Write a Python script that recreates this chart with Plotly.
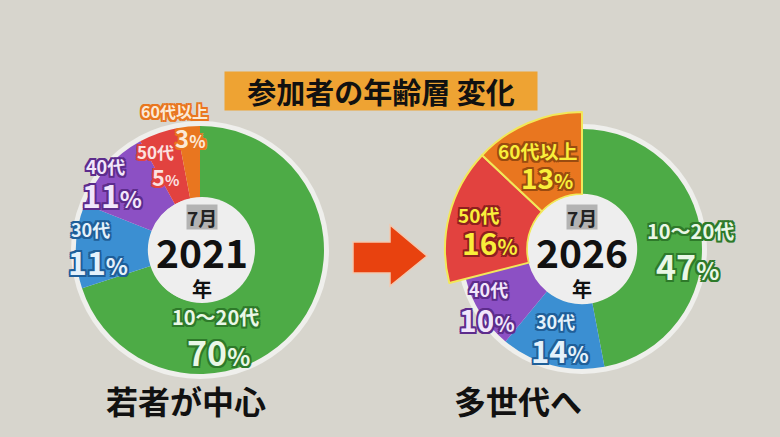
import plotly.graph_objects as go

W, H = 780, 437

ages = ["10〜20代", "30代", "40代", "50代", "60代以上"]
share_2021 = [70, 11, 11, 5, 3]
share_2026 = [47, 14, 10, 16, 13]
highlight_2026 = [False, False, False, True, True]
colors = ["#4dab46", "#3b8fd2", "#8c50c4", "#e2423f", "#e9761f"]

FONT = "Noto Sans CJK JP"
BG = "#d7d5cd"


def px(x, y):
    return x / W, 1 - y / H


def domain(cx, cy, r):
    x0, y0 = px(cx - r, cy + r)
    x1, y1 = px(cx + r, cy - r)
    return dict(x=[x0, x1], y=[y0, y1])


def stroke(c, w=1.8):
    parts = []
    for dx, dy in [(-w, -w), (w, -w), (-w, w), (w, w), (0, w), (0, -w), (w, 0), (-w, 0)]:
        parts.append(f"{dx}px {dy}px 0 {c}")
    return ", ".join(parts)


def circle(cx, cy, r, color, layer="below"):
    x0, y0 = px(cx - r, cy + r)
    x1, y1 = px(cx + r, cy - r)
    return dict(type="circle", xref="paper", yref="paper", x0=x0, y0=y0, x1=x1, y1=y1,
                fillcolor=color, line=dict(width=0), layer=layer)


def label(x, y, text, size, fill, edge=None):
    xx, yy = px(x, y)
    font = dict(family=FONT, size=size, color=fill, weight="bold")
    if edge:
        font["shadow"] = stroke(edge)
    return dict(x=xx, y=yy, xref="paper", yref="paper", text=text, showarrow=False,
                xanchor="center", yanchor="middle", font=font)


def pct(v, size):
    return f"{v}<span style='font-size:{int(size * 0.72)}px'>%</span>"


L = (200, 250, 124)
R = (582, 249, 120)

fig = go.Figure()
fig.add_trace(go.Pie(values=share_2021, labels=ages, marker=dict(colors=colors),
                     hole=0.42, sort=False, direction="clockwise", textinfo="none",
                     domain=domain(*L), showlegend=False))
fig.add_trace(go.Pie(values=share_2026, labels=ages, marker=dict(colors=colors),
                     hole=0.46, sort=False, direction="clockwise", textinfo="none",
                     domain=domain(*R), showlegend=False))
# highlighted (enlarged) slices of 2026
hl_colors = [c if h else "rgba(0,0,0,0)" for c, h in zip(colors, highlight_2026)]
hl_lines = ["#f2e85a" if h else "rgba(0,0,0,0)" for h in highlight_2026]
fig.add_trace(go.Pie(values=share_2026, labels=ages,
                     marker=dict(colors=hl_colors, line=dict(color=hl_lines, width=2)),
                     hole=0.40, sort=False, direction="clockwise", textinfo="none",
                     domain=domain(R[0], R[1], 137), showlegend=False))

shapes = [
    circle(L[0], L[1], L[2] + 5, "#efefec"),
    circle(R[0], R[1], R[2] + 5, "#efefec"),
    circle(L[0] + 2, L[1], 53, "#eeeeee", "above"),
    circle(R[0], R[1], 54, "#eeeeee", "above"),
]
arrow = [(353, 242), (390, 242), (390, 225), (427, 256), (390, 286), (390, 273), (353, 273)]
path = "M " + " L ".join(f"{px(x, y)[0]},{px(x, y)[1]}" for x, y in arrow) + " Z"
shapes.append(dict(type="path", xref="paper", yref="paper", path=path,
                   fillcolor="#e8420f", line=dict(color="#f2c9b0", width=1.5)))

ann = []
title = label(381, 91, "参加者の年齢層 変化", 29, "#111")
title.update(bgcolor="#eea333", borderpad=0, width=312, height=38)
ann.append(title)

# centre labels
for cx, year in [(L[0] + 2, "2021"), (R[0], "2026")]:
    month = label(cx, 217, "7月", 19, "#222")
    month.update(bgcolor="#b3b3b3", borderpad=0, height=24)
    ann.append(month)
    ann.append(label(cx, 251, year, 39, "#111"))
    ann.append(label(cx, 288, "年", 20, "#111"))

# 2021 slice labels
ann += [
    label(174, 111, ages[4], 16, "#fbe9d6", colors[4]),
    label(190, 137, pct(share_2021[4], 24), 24, "#fbe9d6", colors[4]),
    label(155, 151, ages[3], 17, "#fbe1e1", colors[3]),
    label(165, 176, pct(share_2021[3], 22), 22, "#fbe1e1", colors[3]),
    label(106, 166, ages[2], 18, "#f1e6fb", "#5d2c8c"),
    label(112, 194, pct(share_2021[2], 32), 32, "#f1e6fb", "#5d2c8c"),
    label(90, 229, ages[1], 18, "#e4f1fb", "#1f5f99"),
    label(98, 261, pct(share_2021[1], 32), 32, "#e4f1fb", "#1f5f99"),
    label(215, 316, ages[0], 20, "#e9f7e6", "#2e7a2a"),
    label(218, 351, pct(share_2021[0], 34), 34, "#e9f7e6", "#2e7a2a"),
]
# 2026 slice labels
ann += [
    label(537, 150, ages[4], 19, "#f9ee3a", "#9a4b10"),
    label(547, 177, pct(share_2026[4], 28), 28, "#f9ee3a", "#9a4b10"),
    label(478, 214, ages[3], 19, "#f9ee3a", "#8f1f1f"),
    label(490, 242, pct(share_2026[3], 30), 30, "#f9ee3a", "#8f1f1f"),
    label(690, 231, ages[0], 20, "#e9f7e6", "#2e7a2a"),
    label(687, 265, pct(share_2026[0], 34), 34, "#e9f7e6", "#2e7a2a"),
    label(488, 289, ages[2], 18, "#f1e6fb", "#5d2c8c"),
    label(487, 319, pct(share_2026[2], 30), 30, "#f1e6fb", "#5d2c8c"),
    label(555, 321, ages[1], 18, "#e4f1fb", "#1f5f99"),
    label(560, 349, pct(share_2026[1], 31), 31, "#e4f1fb", "#1f5f99"),
]
# captions
ann.append(label(186, 400, "若者が中心", 32, "#111"))
ann.append(label(518, 400, "多世代へ", 32, "#111"))

fig.update_layout(width=W, height=H, margin=dict(l=0, r=0, t=0, b=0),
                  paper_bgcolor=BG, plot_bgcolor=BG, shapes=shapes, annotations=ann)
fig.write_html("out.html", config={"displayModeBar": False},
               post_script="document.body.style.margin='0';")
